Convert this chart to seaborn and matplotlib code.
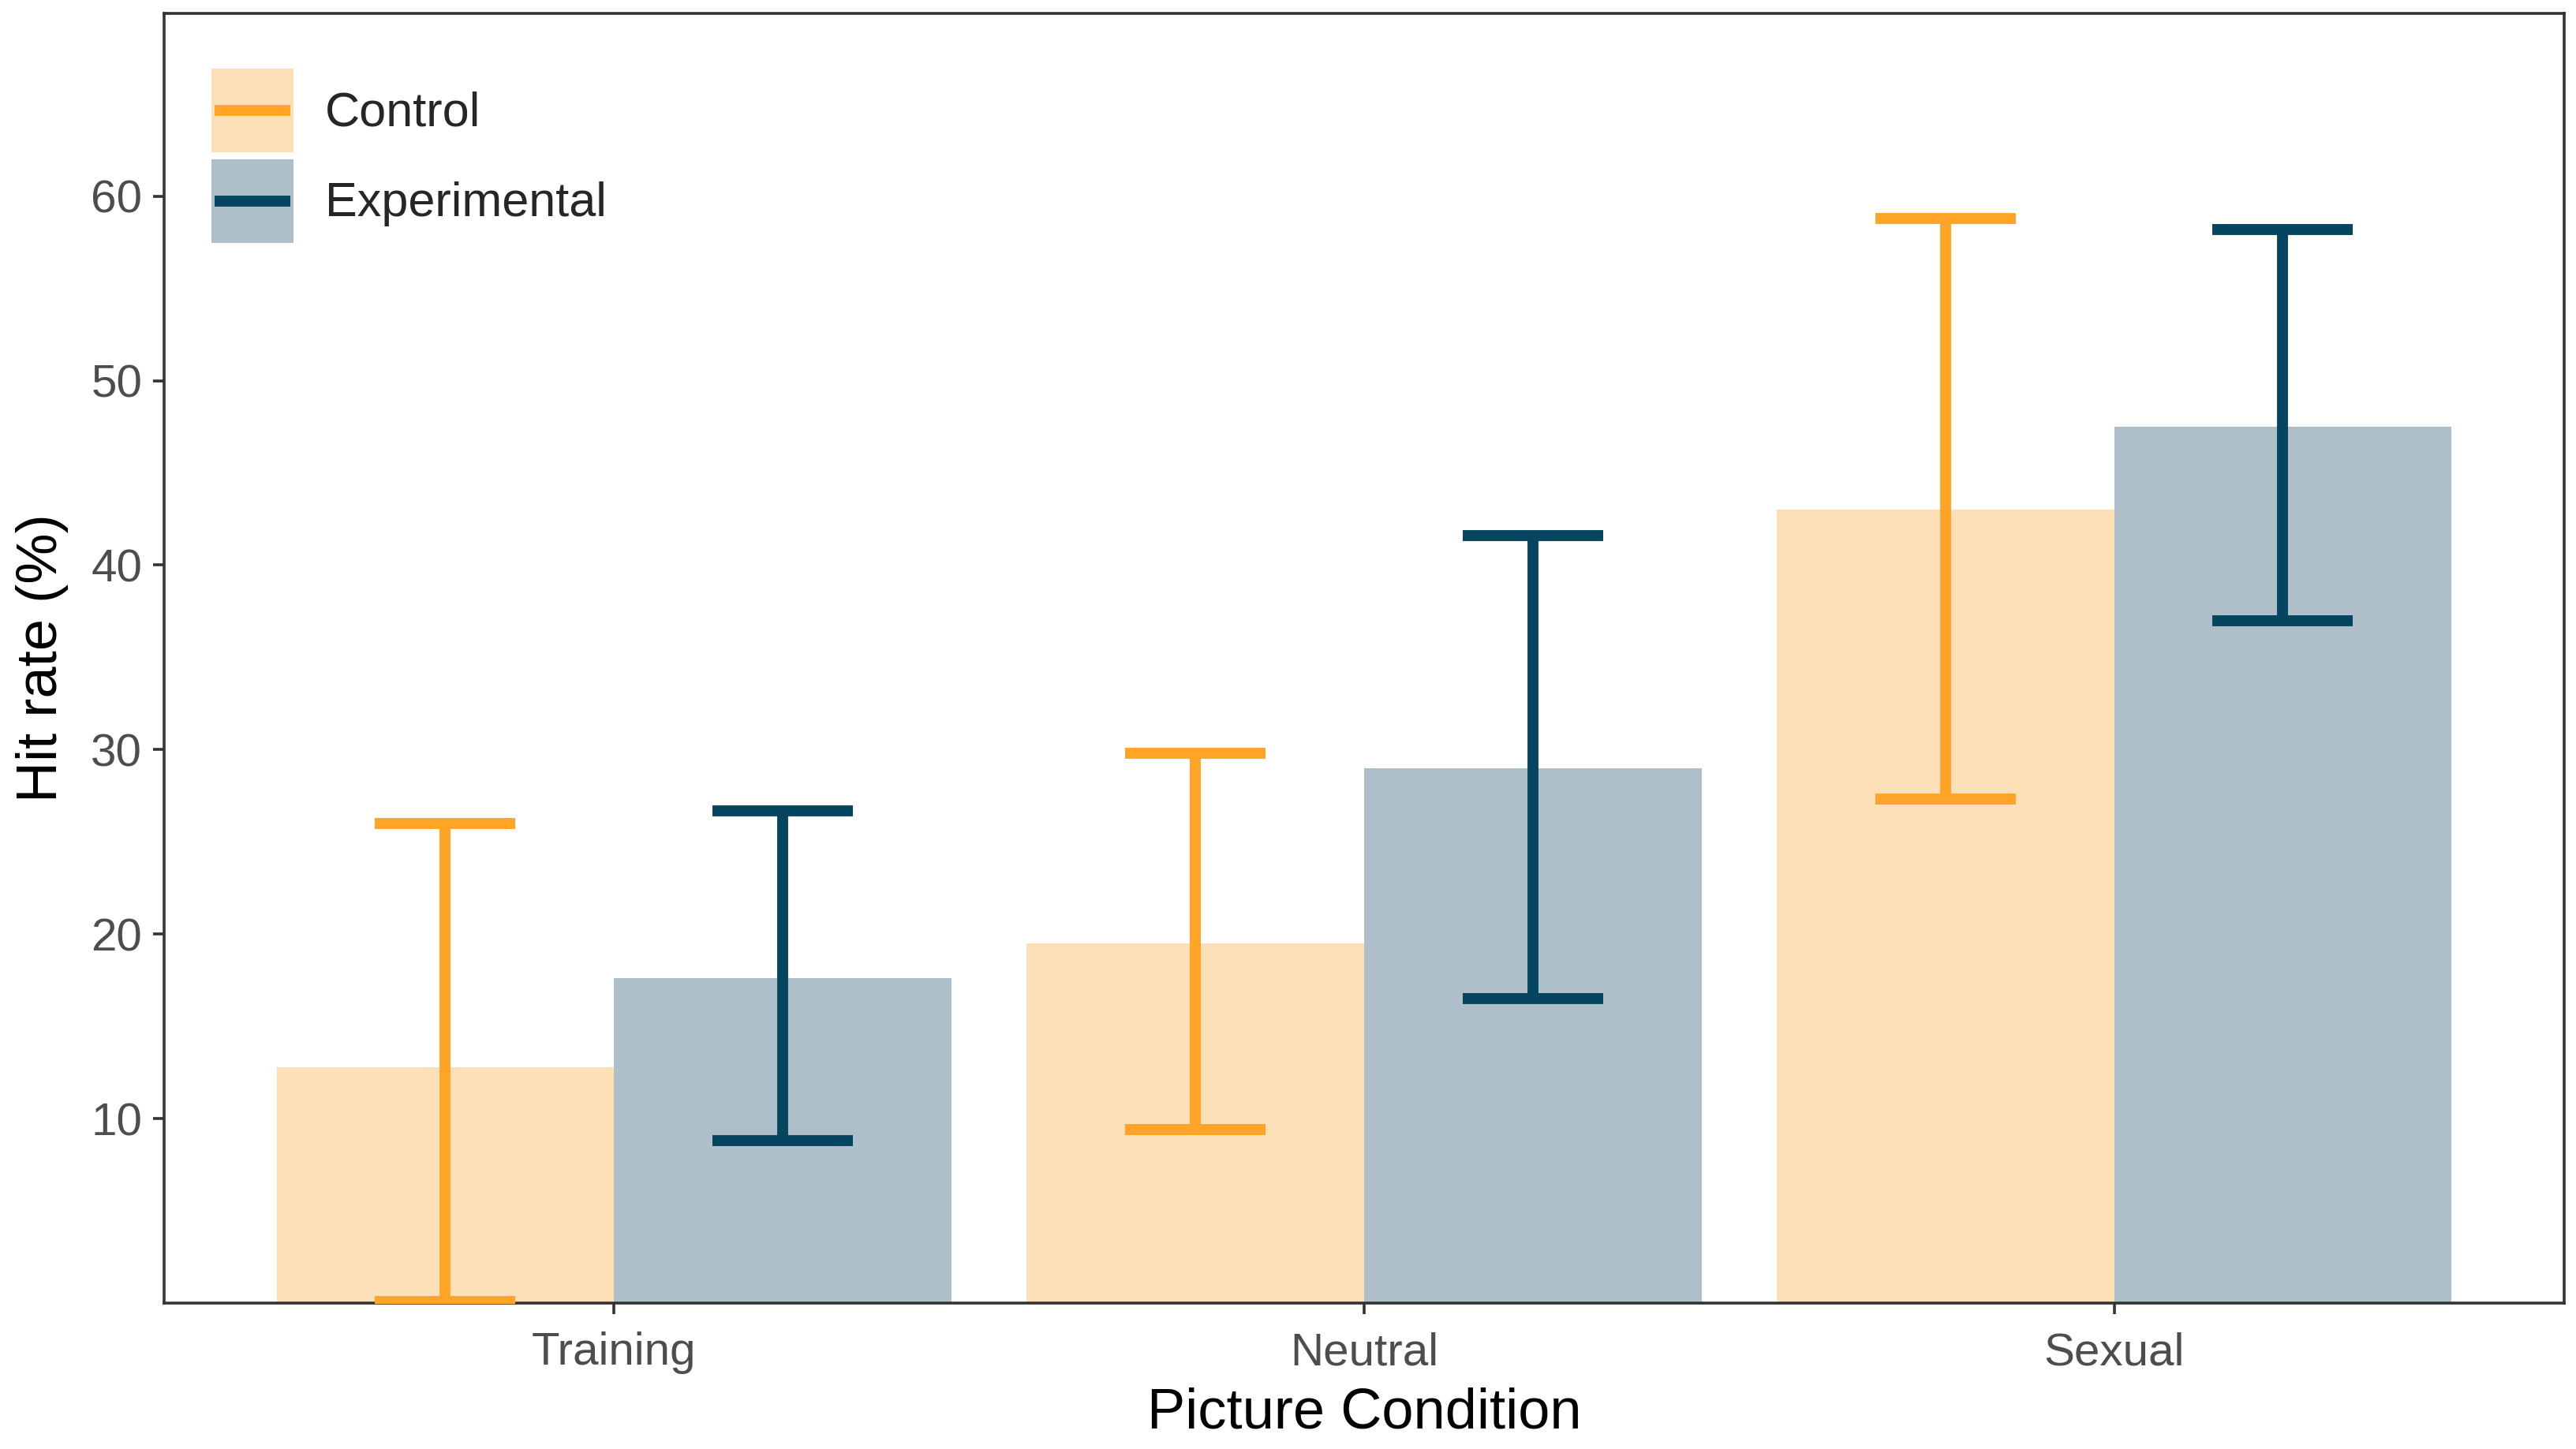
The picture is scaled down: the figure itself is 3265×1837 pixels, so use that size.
import matplotlib
matplotlib.use("Agg")
import matplotlib.pyplot as plt
from matplotlib.lines import Line2D
from matplotlib.patches import Rectangle
import seaborn as sns
import pandas as pd
import numpy as np

# ---- data ----
conditions = ["Training", "Neutral", "Sexual"]
groups = ["Control", "Experimental"]
control_mean = [12.8, 19.5, 43.0]
control_low = [0.1, 9.4, 27.3]
control_high = [26.0, 29.8, 58.8]
exper_mean = [17.6, 29.0, 47.5]
exper_low = [8.8, 16.5, 37.0]
exper_high = [26.7, 41.6, 58.2]
y_ticks = [10, 20, 30, 40, 50, 60]

fill_colors = {"Control": "#FDDFB8", "Experimental": "#AFBFCA"}
line_colors = {"Control": "#FFA426", "Experimental": "#05455F"}

df = pd.DataFrame({
    "Picture Condition": conditions * 2,
    "group": ["Control"] * 3 + ["Experimental"] * 3,
    "hit": control_mean + exper_mean,
})

sns.set_style("white")
plt.rcParams["font.family"] = ["Liberation Sans", "DejaVu Sans"]

fig = plt.figure(figsize=(16.325, 9.185), dpi=200)
ax = fig.add_axes([0.0637, 0.1007, 0.9317, 0.8900])

sns.barplot(data=df, x="Picture Condition", y="hit", hue="group",
            order=conditions, hue_order=groups, palette=fill_colors,
            width=0.9, dodge=True, errorbar=None, legend=False,
            saturation=1, linewidth=0, ax=ax)

lows = {"Control": control_low, "Experimental": exper_low}
highs = {"Control": control_high, "Experimental": exper_high}
means = {"Control": control_mean, "Experimental": exper_mean}
for cont, g in zip(ax.containers, groups):
    xs = [p.get_x() + p.get_width() / 2 for p in cont.patches]
    m = np.array(means[g])
    lo = m - np.array(lows[g])
    hi = np.array(highs[g]) - m
    ax.errorbar(xs, m, yerr=[lo, hi], fmt="none", ecolor=line_colors[g],
                elinewidth=5, capsize=32, capthick=5, zorder=5)

ax.set_xlim(-0.6, 2.6)
ax.set_ylim(0, 69.9)
ax.set_yticks(y_ticks)
ax.set_yticklabels([str(t) for t in y_ticks])

for s in ax.spines.values():
    s.set_visible(True)
    s.set_color("#333333")
    s.set_linewidth(1.3)

ax.tick_params(axis="both", which="major", length=5, width=1.3,
               color="#333333", labelsize=21, labelcolor="#4D4D4D", pad=5,
               left=True, bottom=True)
ax.tick_params(axis="x", pad=8)
ax.set_xlabel("Picture Condition", fontsize=26, color="black", labelpad=6)
ax.set_ylabel("Hit rate (%)", fontsize=26, color="black", labelpad=10)


class KeyHandler:
    def __init__(self, fill, line):
        self.fill = fill
        self.line = line

    def legend_artist(self, legend, orig_handle, fontsize, handlebox):
        x0, y0 = handlebox.xdescent, handlebox.ydescent
        w, h = handlebox.width, handlebox.height
        tr = handlebox.get_transform()
        rect = Rectangle((-x0, -y0), w, h, facecolor=self.fill,
                         edgecolor="none", transform=tr)
        inset = 0.04 * w
        ln = Line2D([-x0 + inset, -x0 + w - inset], [-y0 + h / 2] * 2,
                    color=self.line, lw=5, solid_capstyle="butt", transform=tr)
        handlebox.add_artist(rect)
        handlebox.add_artist(ln)
        return rect


handles = [Line2D([], [], color=line_colors[g]) for g in groups]
hmap = {h: KeyHandler(fill_colors[g], line_colors[g]) for h, g in zip(handles, groups)}
leg = ax.legend(handles, groups, handler_map=hmap,
                loc="upper left", bbox_to_anchor=(0.0197, 0.957), frameon=False,
                fontsize=22, handlelength=1.7, handleheight=2.28,
                labelspacing=0.15, handletextpad=0.65, borderaxespad=0,
                borderpad=0)

fig.savefig("out.png", dpi=200)
